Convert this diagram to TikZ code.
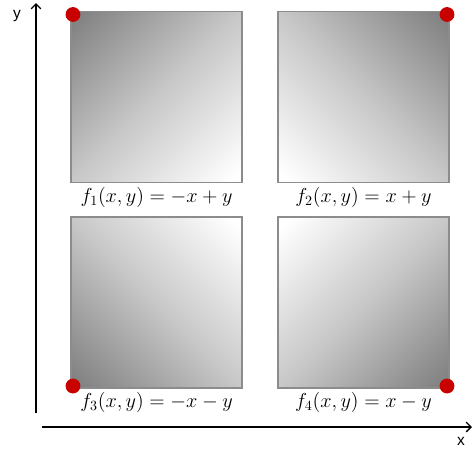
\documentclass[tikz,border=0pt]{standalone}
\usepackage{fontspec}
\setsansfont{Liberation Sans}
\usetikzlibrary{arrows.meta,positioning}

\definecolor{rim}{RGB}{140,140,140}
\definecolor{dotred}{RGB}{200,0,0}
\definecolor{darkcorner}{RGB}{125,125,125}
\definecolor{midgrey}{RGB}{200,200,200}
% gradient stretched so that it runs corner to corner when turned by 45 degrees
\pgfdeclareverticalshading{diagsq}{100bp}{color(0bp)=(white); color(17bp)=(white);
  color(50bp)=(midgrey); color(85.4bp)=(darkcorner); color(100bp)=(darkcorner)}

\begin{document}
\begin{tikzpicture}[x=0.025cm,y=-0.025cm,>={Straight Barb[length=3.5pt,width=7pt]},
 sq/.style={draw=rim,line width=1pt,minimum size=4.275cm,inner sep=0pt,outer sep=0pt,
   shading=diagsq},
 lbl/.style={inner sep=2pt,font=\fontsize{14.5}{16}\selectfont},
 dot/.style={circle,fill=dotred,minimum size=0.37cm,inner sep=0pt},
 axl/.style={font=\sffamily\fontsize{11}{12}\selectfont},
 ax/.style={->,line width=0.9pt}]
\useasboundingbox (0,0) rectangle (476,450);
% the four squares
\node[sq,shading angle=45] (b1) at (156.5,97) {};
\node[sq,shading angle=-45] (b2) at (363.5,97) {};
\node[sq,shading angle=135] (b3) at (156.5,302.5) {};
\node[sq,shading angle=-135] (b4) at (363.5,302.5) {};
\node[lbl,below=1pt of b1] (f1) {$f_1(x,y)=-x+y$};
\node[lbl,below=1pt of b2] (f2) {$f_2(x,y)=x+y$};
\node[lbl,below=1pt of b3] (f3) {$f_3(x,y)=-x-y$};
\node[lbl,below=1pt of b4] (f4) {$f_4(x,y)=x-y$};
% corner dots
\node[dot] (d1) at ([shift={(2,3)}]b1.north west) {};
\node[dot] (d2) at ([shift={(-2,3)}]b2.north east) {};
\node[dot] (d3) at ([shift={(2,-2)}]b3.south west) {};
\node[dot] (d4) at ([shift={(-2,-2)}]b4.south east) {};
% axes
\coordinate (ybot) at (36,413);
\coordinate (ytop) at (36,3);
\coordinate (xlft) at (42,427);
\coordinate (xrgt) at (472,427);
\draw[ax] (ybot) -- (ytop);
\draw[ax] (xlft) -- (xrgt);
\node[axl] (ylab) at (17,16) {y};
\node[axl] (xlab) at (461,441) {x};
\end{tikzpicture}
\end{document}
